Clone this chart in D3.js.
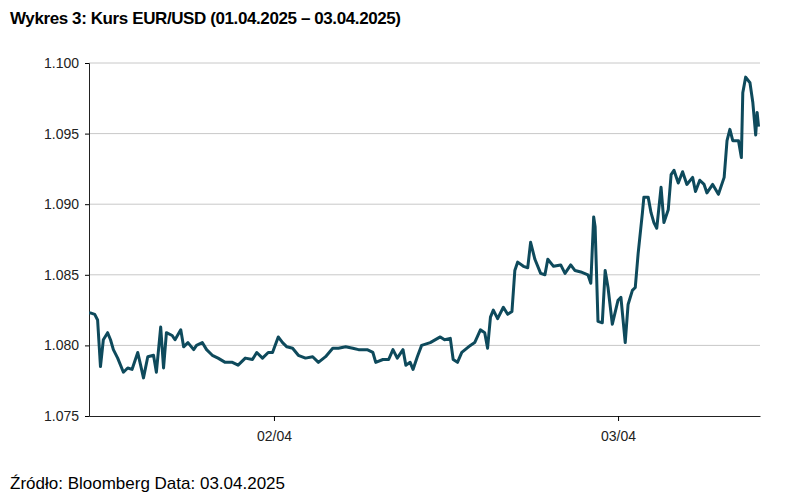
<!DOCTYPE html>
<html><head><meta charset="utf-8">
<script src="https://cdn.jsdelivr.net/npm/d3@7"></script>
<style>
body{margin:0;background:#fff;font-family:"Liberation Sans",Arial,sans-serif;}
</style></head>
<body><svg id="chart" width="788" height="502"></svg>
<script>
// hours since 01/04 00:00
const hours = [11.1,11.2,11.5,11.7,11.9,12.1,12.4,12.6,12.8,13.1,13.5,13.8,14.1,14.5,14.7,14.9,15.2,15.6,15.8,16.1,16.3,16.5,16.9,17.1,17.5,17.7,18.0,18.4,18.6,19.0,19.3,19.7,20.1,20.6,21.1,21.5,22.0,22.5,22.8,23.2,23.6,23.9,24.3,24.6,24.9,25.3,25.7,26.2,26.7,27.1,27.6,28.1,28.5,29.0,29.5,29.9,30.5,30.9,31.1,31.6,32.0,32.3,32.6,33.0,33.2,33.5,33.7,34.0,34.3,34.9,35.6,35.9,36.3,36.5,36.8,37.1,37.7,38.0,38.4,38.7,38.9,39.1,39.3,39.6,40.0,40.3,40.6,40.8,41.0,41.4,41.7,41.9,42.2,42.6,42.9,43.1,43.5,44.0,44.3,44.7,45.0,45.4,45.9,46.1,46.3,46.4,46.6,46.9,47.1,47.3,47.6,48.0,48.2,48.5,48.7,49.0,49.2,49.4,49.7,49.8,50.1,50.3,50.5,50.7,51.0,51.2,51.5,51.7,51.9,52.2,52.5,52.8,53.2,53.4,53.7,54.0,54.2,54.6,55.0,55.4,55.6,55.8,56.0,56.4,56.6,56.7,56.9,57.2,57.4,57.6,57.7,57.8];
const eurusd = [1.0823,1.0823,1.0822,1.0818,1.0785,1.0804,1.0809,1.0804,1.0797,1.0791,1.0781,1.0784,1.0783,1.0795,1.0786,1.0777,1.0792,1.0793,1.0781,1.0813,1.0784,1.0809,1.0807,1.0804,1.0811,1.0799,1.0802,1.0797,1.0800,1.0802,1.0797,1.0793,1.0791,1.0788,1.0788,1.0786,1.0791,1.0790,1.0795,1.0791,1.0795,1.0795,1.0806,1.0802,1.0799,1.0798,1.0793,1.0791,1.0792,1.0788,1.0792,1.0798,1.0798,1.0799,1.0798,1.0797,1.0797,1.0795,1.0788,1.0790,1.0790,1.0797,1.0791,1.0797,1.0786,1.0788,1.0783,1.0792,1.0800,1.0802,1.0806,1.0804,1.0805,1.0790,1.0788,1.0795,1.0800,1.0802,1.0811,1.0809,1.0798,1.0820,1.0825,1.0819,1.0827,1.0822,1.0824,1.0853,1.0859,1.0856,1.0855,1.0873,1.0861,1.0851,1.0850,1.0861,1.0856,1.0857,1.0851,1.0857,1.0853,1.0852,1.0850,1.0844,1.0891,1.0884,1.0817,1.0816,1.0853,1.0841,1.0815,1.0832,1.0834,1.0802,1.0829,1.0839,1.0841,1.0865,1.0894,1.0905,1.0905,1.0894,1.0887,1.0883,1.0912,1.0887,1.0896,1.0921,1.0924,1.0915,1.0923,1.0914,1.0919,1.0909,1.0917,1.0914,1.0908,1.0914,1.0907,1.0919,1.0945,1.0953,1.0945,1.0945,1.0933,1.0979,1.0990,1.0986,1.0972,1.0949,1.0965,1.0955];
const yTicks = [1.075,1.080,1.085,1.090,1.095,1.100];
const xTicks = [24,48];
const xTickLabels = ["02/04","03/04"];

const svg = d3.select("#chart");
const mLeft = 89, mRight = 760, mTop = 63, mBottom = 416;
const n = Math.min(hours.length, eurusd.length);
const data = hours.slice(0, n).map((h,i) => ({h:h, v:eurusd[i]}));

const x = d3.scaleLinear().domain([11.1,57.9]).range([mLeft,mRight]);
const y = d3.scaleLinear().domain([1.075,1.100]).range([mBottom,mTop]);

svg.append("text").attr("x",10).attr("y",24)
  .attr("font-size",17).attr("font-weight","bold").attr("letter-spacing","-0.4")
  .text("Wykres 3: Kurs EUR/USD (01.04.2025 – 03.04.2025)");

svg.append("text").attr("x",10).attr("y",489)
  .attr("font-size",17)
  .text("Źródło: Bloomberg Data: 03.04.2025");

// grid
svg.append("g").selectAll("line").data(yTicks.slice(1)).join("line")
  .attr("x1",mLeft).attr("x2",mRight)
  .attr("y1",d => y(d)).attr("y2",d => y(d))
  .attr("stroke","#c8c8c8").attr("stroke-width",1);

const yAxis = svg.append("g").attr("transform",`translate(${mLeft},0)`)
  .call(d3.axisLeft(y).tickValues(yTicks).tickFormat(d3.format(".3f")).tickSize(4));
yAxis.selectAll("text").attr("font-size",14).attr("fill","#222")
  .attr("font-family","Liberation Sans, Arial, sans-serif").attr("dx","-3");
yAxis.select(".domain").attr("stroke","#222");

const xAxis = svg.append("g").attr("transform",`translate(0,${mBottom})`)
  .call(d3.axisBottom(x).tickValues(xTicks).tickFormat((d,i) => xTickLabels[i]).tickSize(5).tickSizeOuter(0));
xAxis.selectAll("text").attr("font-size",14).attr("fill","#222")
  .attr("font-family","Liberation Sans, Arial, sans-serif").attr("dy","1.2em");
xAxis.select(".domain").attr("stroke","#222");

svg.append("path").datum(data)
  .attr("fill","none").attr("stroke","#0e4a5c").attr("stroke-width",3)
  .attr("stroke-linejoin","round")
  .attr("d", d3.line().x(d => x(d.h)).y(d => y(d.v)));
</script></body></html>
